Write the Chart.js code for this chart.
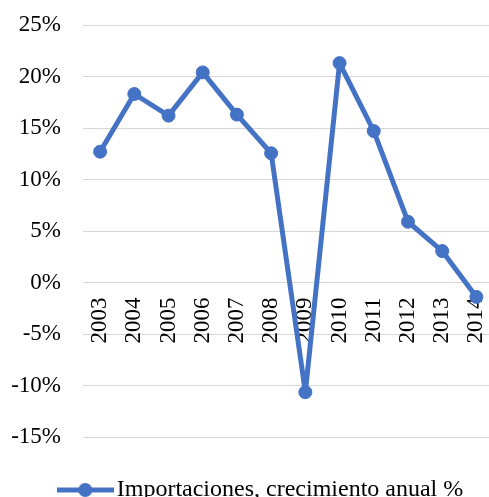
<!DOCTYPE html>
<html>
<head>
<meta charset="utf-8">
<script src="https://cdn.jsdelivr.net/npm/chart.js@4.4.1/dist/chart.umd.min.js"></script>
<style>
html, body { margin: 0; padding: 0; overflow: hidden; background: #fff; }
#wrap { position: relative; width: 501px; height: 512px; }
</style>
</head>
<body>
<div id="wrap"><canvas id="myChart"></canvas></div>
<script>
var years = ['2003', '2004', '2005', '2006', '2007', '2008', '2009', '2010', '2011', '2012', '2013', '2014'];
var imports = [12.7, 18.3, 16.2, 20.4, 16.3, 12.55, -10.65, 21.3, 14.7, 5.9, 3.05, -1.4];
var yTicks = [-15, -10, -5, 0, 5, 10, 15, 20, 25];
var seriesName = 'Importaciones, crecimiento anual %';

var blue = '#4472C4';
var serif = "'Liberation Serif', 'Times New Roman', serif";

// legend marker: line with a dot in the middle
var marker = document.createElement('canvas');
marker.width = 57;
marker.height = 16;
var mctx = marker.getContext('2d');
mctx.strokeStyle = blue;
mctx.lineWidth = 5;
mctx.beginPath();
mctx.moveTo(0, 8);
mctx.lineTo(57, 8);
mctx.stroke();
mctx.fillStyle = blue;
mctx.beginPath();
mctx.arc(28.5, 8, 7, 0, Math.PI * 2);
mctx.fill();

// keep the legend centred under the plot like the original
var legendShift = {
    id: 'legendShift',
    afterLayout: function (chart) {
        chart.legend.left = 36;
        chart.legend.right = 493;
    }
};

var ctx = document.getElementById('myChart');
var myChart = new Chart(ctx, {
    type: 'line',
    data: {
        labels: years,
        datasets: [{
            label: seriesName,
            data: imports,
            borderColor: blue,
            backgroundColor: blue,
            borderWidth: 5,
            borderJoinStyle: 'round',
            borderCapStyle: 'round',
            pointRadius: 6.5,
            pointBorderWidth: 1,
            tension: 0,
            fill: false
        }]
    },
    options: {
        responsive: true,
        maintainAspectRatio: false,
        animation: false,
        layout: {
            padding: { top: 25, left: 11, right: 1, bottom: 0 }
        },
        scales: {
            x: {
                position: { y: 0 },
                offset: true,
                z: 1,
                grid: { display: false, drawTicks: false },
                border: { display: false },
                ticks: {
                    minRotation: 90,
                    maxRotation: 90,
                    autoSkip: false,
                    padding: 15,
                    color: '#000',
                    font: { family: serif, size: 23 }
                },
                afterFit: function (scale) {
                    scale.paddingLeft = 0;
                    scale.paddingRight = 0;
                    scale.paddingTop = 0;
                    scale.paddingBottom = 0;
                }
            },
            y: {
                min: yTicks[0],
                max: yTicks[yTicks.length - 1],
                grid: { color: '#d6d6d6', lineWidth: 1, drawTicks: false },
                border: { display: false },
                ticks: {
                    stepSize: yTicks[1] - yTicks[0],
                    padding: 22,
                    color: '#000',
                    font: { family: serif, size: 23 },
                    callback: function (v) { return v + '%'; }
                },
                afterFit: function (scale) {
                    scale.width = 72;
                    scale.paddingTop = 0;
                    scale.paddingBottom = 0;
                }
            }
        },
        plugins: {
            tooltip: { enabled: false },
            legend: {
                position: 'bottom',
                labels: {
                    usePointStyle: true,
                    pointStyleWidth: 39,
                    padding: 41,
                    color: '#000',
                    font: { family: serif, size: 24 },
                    generateLabels: function (chart) {
                        var items = Chart.defaults.plugins.legend.labels.generateLabels(chart);
                        items.forEach(function (it) { it.pointStyle = marker; });
                        return items;
                    }
                }
            }
        }
    },
    plugins: [legendShift]
});
</script>
</body>
</html>
